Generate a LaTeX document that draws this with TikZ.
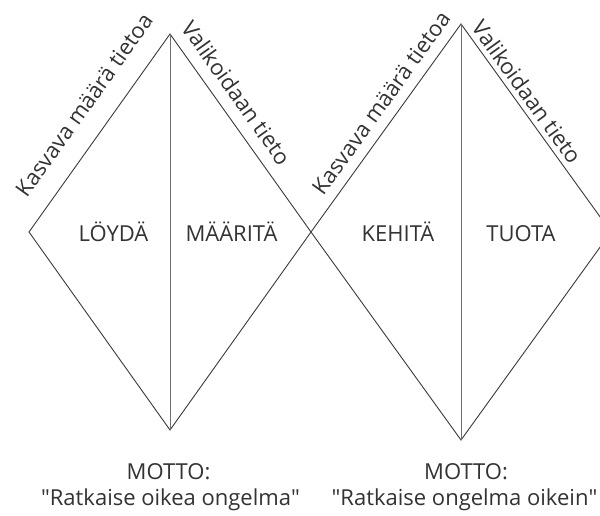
\documentclass[tikz,border=0pt]{standalone}
\usepackage{fontspec}
\setmainfont{Open Sans}
\definecolor{txt}{HTML}{333333}
\definecolor{ln}{HTML}{3A3A3A}
\definecolor{mid}{HTML}{707070}
\begin{document}
\begin{tikzpicture}[x=1pt,y=-1pt,
  edge/.style={draw=ln, line width=0.9pt, line join=miter},
  axis/.style={draw=mid, line width=0.9pt},
  lbl/.style={text=txt, font=\fontsize{22}{26}\selectfont, inner sep=0pt, anchor=base},
  slab/.style={text=txt, font=\fontsize{22}{26}\selectfont, inner sep=0pt}]
\clip (0,0) rectangle (600,516);
\fill[white] (0,0) rectangle (600,516);
% vertices
\coordinate (t1) at (170,34);
\coordinate (l1) at (29,232);
\coordinate (b1) at (170,430);
\coordinate (r1) at (311,232);
\coordinate (t2) at (461,24);
\coordinate (l2) at (311,232);
\coordinate (b2) at (461,440);
\coordinate (r2) at (611,232);
% diamonds
\draw[edge] (l1) -- (t1) -- (r1) -- (b1) -- cycle;
\draw[edge] (l2) -- (t2) -- (r2) -- (b2) -- cycle;
\draw[axis] (t1) -- (b1);
\draw[axis] (t2) -- (b2);
% inner labels
\node[lbl] (loyda) at (113.5,241.5) {LÖYDÄ};
\node[lbl] (maarita) at (231.5,241.5) {MÄÄRITÄ};
\node[lbl] (kehita) at (398,241.5) {KEHITÄ};
\node[lbl] (tuota) at (521,241.5) {TUOTA};
% edge labels
\node[slab, rotate=54.5] (k1) at (84,105) {Kasvava määrä tietoa};
\node[slab, rotate=-54.5] (v1) at (237,93) {Valikoidaan tieto};
\node[slab, rotate=54.2] (k2) at (381,103) {Kasvava määrä tietoa};
\node[slab, rotate=-54.2] (v2) at (527,92) {Valikoidaan tieto};
% mottos
\node[lbl] (m1) at (168.5,479) {MOTTO:};
\node[lbl] (q1) at (170.5,505) {\textquotedbl Ratkaise oikea ongelma\textquotedbl};
\node[lbl] (m2) at (466,479) {MOTTO:};
\node[lbl] (q2) at (464.5,505) {\textquotedbl Ratkaise ongelma oikein\textquotedbl};
\end{tikzpicture}
\end{document}
